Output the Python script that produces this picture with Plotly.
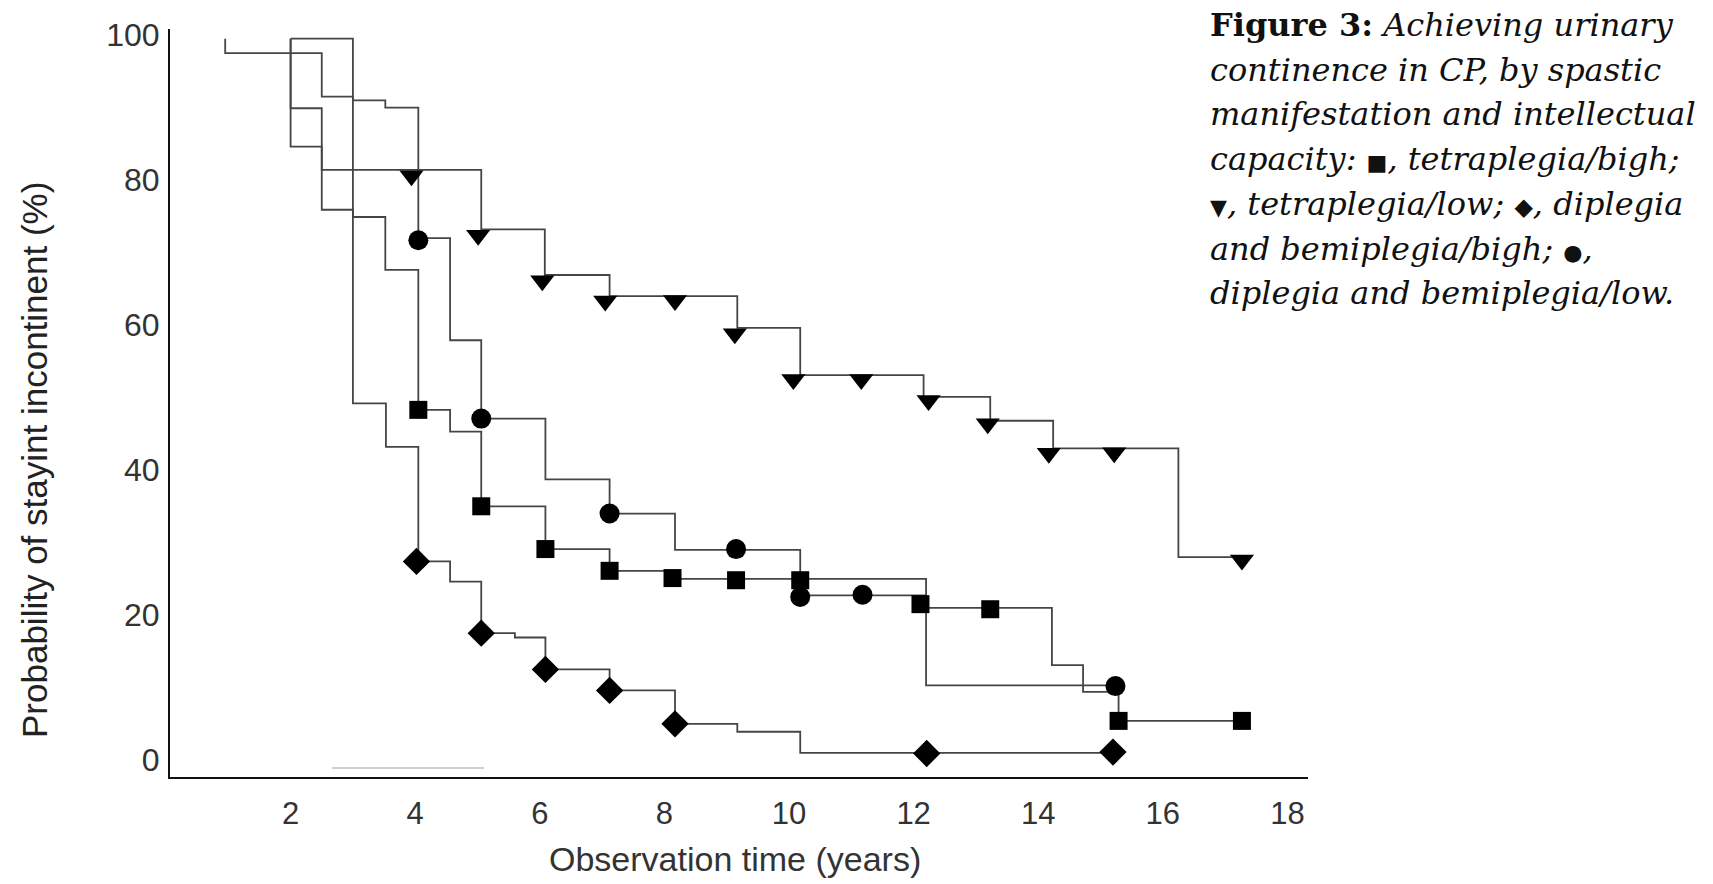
import plotly.graph_objects as go

# ---------------- data ----------------
x_ticks = [2, 4, 6, 8, 10, 12, 14, 16, 18]
y_ticks = [0, 20, 40, 60, 80, 100]

# tetraplegia / low  (triangle-down)
tri_t = [0.95, 0.95, 2.5, 3.0, 3.52, 4.05, 5.06, 6.08, 7.12, 9.17, 10.18, 12.16, 13.23, 14.24, 16.25, 17.27]
tri_v = [99.5, 97.5, 91.5, 91.0, 90.0, 81.4, 73.2, 66.9, 64.0, 59.6, 53.1, 50.1, 46.8, 43.0, 28.0, 28.0]
tri_mx = [3.94, 5.01, 6.04, 7.05, 8.17, 9.13, 10.07, 11.16, 12.24, 13.19, 14.17, 15.22, 17.27]
tri_my = [80.6, 72.4, 66.1, 63.3, 63.4, 58.8, 52.5, 52.5, 49.6, 46.4, 42.3, 42.4, 27.6]

# tetraplegia / high  (square)
sq_t = [2.0, 2.0, 2.5, 3.0, 3.52, 4.05, 4.56, 5.06, 6.09, 7.12, 8.17, 12.2, 14.22, 14.72, 15.29, 17.27]
sq_v = [99.5, 89.9, 75.9, 74.9, 67.6, 48.3, 45.3, 35.0, 29.1, 26.1, 25.0, 21.0, 13.1, 9.4, 5.4, 5.4]
sq_mx = [4.05, 5.06, 6.09, 7.12, 8.13, 9.15, 10.18, 12.11, 13.23, 15.29, 17.27]
sq_my = [48.3, 35.0, 29.1, 26.1, 25.1, 24.8, 24.8, 21.5, 20.8, 5.4, 5.4]

# diplegia and hemiplegia / low  (circle)
ci_t = [2.0, 2.0, 2.5, 4.05, 4.56, 5.06, 6.09, 7.12, 8.17, 10.18, 12.2, 15.24]
ci_v = [99.5, 84.6, 81.4, 72.0, 57.9, 47.1, 38.7, 34.0, 29.0, 22.7, 10.3, 10.3]
ci_mx = [4.05, 5.06, 7.12, 9.15, 10.18, 11.18, 15.24]
ci_my = [71.7, 47.1, 34.0, 29.1, 22.5, 22.8, 10.2]

# diplegia and hemiplegia / high  (diamond)
di_t = [2.0, 3.0, 3.53, 4.05, 4.56, 5.06, 5.6, 6.09, 7.12, 8.17, 9.17, 10.18, 15.2]
di_v = [99.5, 49.2, 43.2, 27.4, 24.6, 17.5, 16.9, 12.5, 9.6, 5.0, 3.9, 1.0, 1.0]
di_mx = [4.02, 5.06, 6.09, 7.12, 8.17, 12.21, 15.2]
di_my = [27.4, 17.5, 12.5, 9.6, 5.0, 0.9, 1.1]

# faint scan line near the baseline
faint_t = [2.67, 5.1]
faint_v = [-1.1, -1.1]

x_title = "Observation time (years)"
y_title = "Probability of stayint incontinent (%)"
caption_lines = [
    "<b>Figure 3:</b> <i>Achieving urinary</i>",
    "<i>continence in CP, by spastic</i>",
    "<i>manifestation and intellectual</i>",
    "<i>capacity: </i><span style='font-size:22px'>■</span><i>, tetraplegia/bigh;</i>",
    "<span style='font-size:22px'>▼</span><i>, tetraplegia/low; </i><span style='font-size:24px'>◆</span><i>, diplegia</i>",
    "<i>and bemiplegia/bigh; </i><span style='font-size:22px'>●</span><i>,</i>",
    "<i>diplegia and bemiplegia/low.</i>",
]

# ---------------- figure ----------------
W, H = 1713, 884
L, R, T, B = 170, 405, 29, 107
PW, PH = W - L - R, H - T - B

def px_to_paper(px, py):
    return (px - L) / PW, (H - B - py) / PH

fig = go.Figure()

line_style = dict(color="#454545", width=1.8, shape="hv")
fig.add_trace(go.Scatter(x=faint_t, y=faint_v, mode="lines",
                         line=dict(color="#cfcfcf", width=2), hoverinfo="skip"))
for t, v in [(tri_t, tri_v), (sq_t, sq_v), (ci_t, ci_v), (di_t, di_v)]:
    fig.add_trace(go.Scatter(x=t, y=v, mode="lines", line=line_style, hoverinfo="skip"))

marker_sets = [
    (tri_mx, tri_my, "triangle-down", 21),
    (sq_mx, sq_my, "square", 18),
    (ci_mx, ci_my, "circle", 20),
    (di_mx, di_my, "diamond", 21),
]
for mx, my, sym, size in marker_sets:
    fig.add_trace(go.Scatter(x=mx, y=my, mode="markers",
                             marker=dict(symbol=sym, size=size, color="black",
                                         line=dict(width=0)),
                             hoverinfo="skip"))

x0 = 0.064
x1 = x0 + PW / 62.3
y0 = -2.34
y1 = y0 + PH / 7.25

x_tick_font = dict(family="Liberation Sans, Arial, sans-serif", size=31, color="#333333")
y_tick_font = dict(family="Liberation Sans, Arial, sans-serif", size=32, color="#333333")
fig.update_xaxes(range=[x0, x1], tickmode="array", tickvals=x_ticks,
                 ticktext=[str(v) for v in x_ticks], showline=True, linecolor="#111111",
                 linewidth=2, showgrid=False, zeroline=False, ticks="",
                 tickfont=x_tick_font, ticklabelstandoff=8)
fig.update_yaxes(range=[y0, y1], tickmode="array", tickvals=y_ticks,
                 ticktext=[str(v) for v in y_ticks], showline=True, linecolor="#111111",
                 linewidth=2, showgrid=False, zeroline=False, ticks="",
                 tickfont=y_tick_font, ticklabelstandoff=2)

annotations = []
ax, ay = px_to_paper(735, 859)
annotations.append(dict(text=x_title, x=ax, y=ay, xref="paper", yref="paper",
                        showarrow=False, xanchor="center", yanchor="middle",
                        font=dict(family="Liberation Sans, Arial, sans-serif", size=34, color="#333333")))
ax, ay = px_to_paper(34, 460)
annotations.append(dict(text=y_title, x=ax, y=ay, xref="paper", yref="paper",
                        showarrow=False, xanchor="center", yanchor="middle", textangle=-90,
                        font=dict(family="Liberation Sans, Arial, sans-serif", size=35, color="#222222")))
for i, line in enumerate(caption_lines):
    cx, cy = px_to_paper(1208, 25 + 44.7 * i)
    annotations.append(dict(text=line, x=cx, y=cy, xref="paper", yref="paper",
                            showarrow=False, xanchor="left", yanchor="middle", align="left",
                            font=dict(family="DejaVu Serif, serif", size=32, color="#111111")))

fig.update_layout(width=W, height=H, margin=dict(l=L, r=R, t=T, b=B, pad=0),
                  plot_bgcolor="white", paper_bgcolor="white", showlegend=False,
                  annotations=annotations)

fig.write_html("out.html", config={"displayModeBar": False},
               post_script="document.body.style.margin='0';document.body.style.overflow='hidden';")
